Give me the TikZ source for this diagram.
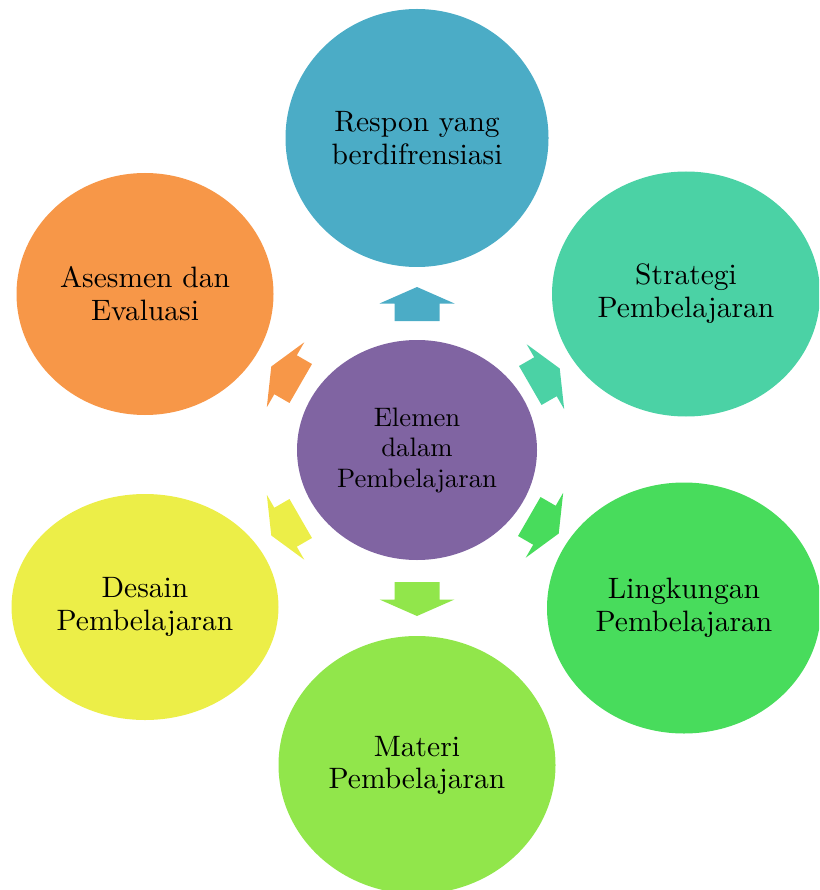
\documentclass[tikz,border=0pt]{standalone}
\usepackage{fontspec}
\setmainfont{lmroman10-regular.otf}
\usetikzlibrary{shapes.geometric}
\definecolor{cResp}{RGB}{75,172,198}
\definecolor{cStrat}{RGB}{75,210,165}
\definecolor{cLing}{RGB}{72,220,92}
\definecolor{cMat}{RGB}{145,230,75}
\definecolor{cDes}{RGB}{236,238,72}
\definecolor{cAses}{RGB}{247,151,72}
\definecolor{cCent}{RGB}{128,100,162}
\begin{document}
\begin{tikzpicture}[x=1pt,y=-1pt,
  bubble/.style={ellipse, inner sep=0pt, align=center, text=black,
    font=\fontsize{29.5}{33}\selectfont},
  hub/.style={ellipse, inner sep=0pt, align=center, text=black,
    font=\fontsize{26.7}{30.5}\selectfont},
  blockarrow/.pic={\fill[pic actions] (-17,-22.5) -- (0.5,-22.5) -- (0.5,-37.5) -- (17,0)
     -- (0.5,37.5) -- (0.5,22.5) -- (-17,22.5) -- cycle;}]
\useasboundingbox (0,0) rectangle (819,890);
\clip (0,0) rectangle (819,890);
% outer bubbles
\node[bubble, fill=cResp, minimum width=263pt, minimum height=258pt] (resp) at (417,138) {Respon yang\\berdifrensiasi};
\node[bubble, fill=cStrat, minimum width=268pt, minimum height=245pt] (strat) at (686,294) {Strategi\\Pembelajaran};
\node[bubble, fill=cLing, minimum width=274pt, minimum height=251pt] (ling) at (684,608) {Lingkungan\\Pembelajaran};
\node[bubble, fill=cMat, minimum width=277pt, minimum height=258pt] (mat) at (417,765) {Materi\\[-1pt]Pembelajaran};
\node[bubble, fill=cDes, minimum width=267pt, minimum height=226pt] (des) at (145,607) {Desain\\Pembelajaran};
\node[bubble, fill=cAses, minimum width=257pt, minimum height=242pt] (ases) at (145,294) {Asesmen dan\\Evaluasi};
% hub
\node[hub, fill=cCent, minimum width=240pt, minimum height=220pt] (hub) at (417,450) {Elemen\\dalam\\Pembelajaran};
% block arrows
\pic[fill=cResp, rotate=90] at (417,304) {blockarrow};
\pic[fill=cStrat, rotate=30] at (545,377) {blockarrow};
\pic[fill=cLing, rotate=-30] at (544,525) {blockarrow};
\pic[fill=cMat, rotate=-90] at (417,599) {blockarrow};
\pic[fill=cDes, rotate=-150] at (286,527) {blockarrow};
\pic[fill=cAses, rotate=150] at (286,375) {blockarrow};
\end{tikzpicture}
\end{document}
